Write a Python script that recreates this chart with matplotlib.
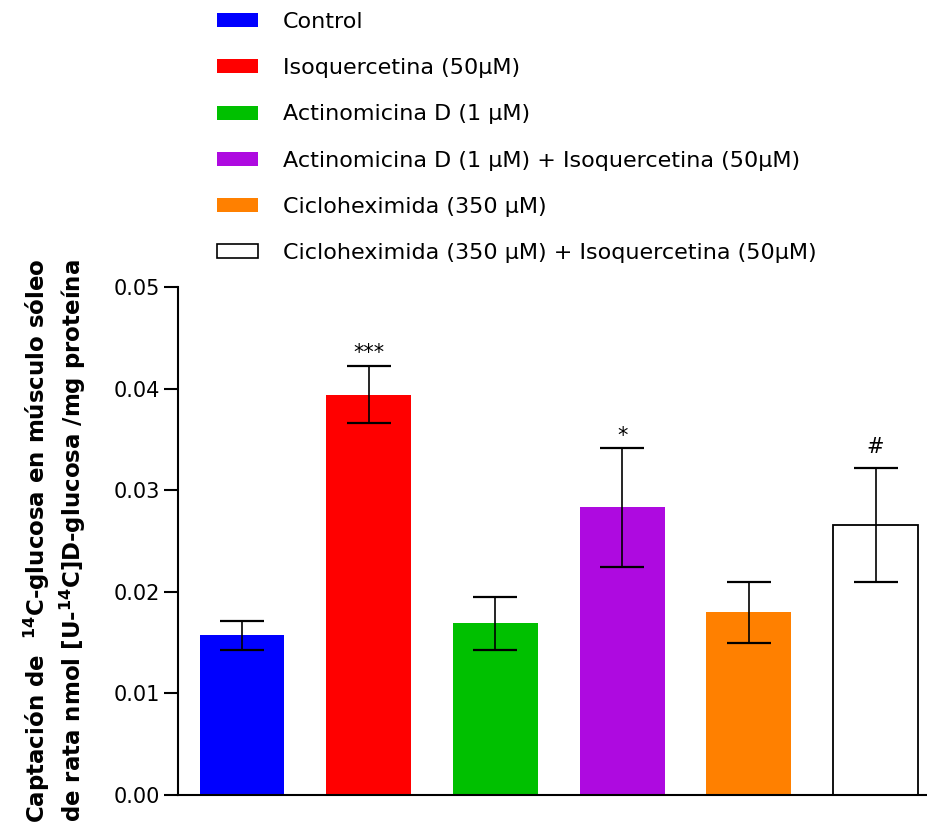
import matplotlib
matplotlib.use("Agg")
import matplotlib.pyplot as plt
from matplotlib.patches import Patch

plt.rcParams['font.family'] = ['DejaVu Sans']

# ---- data ----
labels = ["Control",
          "Isoquercetina (50μM)",
          "Actinomicina D (1 μM)",
          "Actinomicina D (1 μM) + Isoquercetina (50μM)",
          "Cicloheximida (350 μM)",
          "Cicloheximida (350 μM) + Isoquercetina (50μM)"]
means = [0.0157, 0.0394, 0.0169, 0.0283, 0.0180, 0.0266]
sems = [0.00145, 0.0028, 0.0026, 0.0059, 0.0030, 0.0056]
signif = ["", "***", "", "*", "", "#"]
colors = ["#0000FF", "#FF0000", "#00C000", "#AE0AE0", "#FF8000", "#FFFFFF"]
edgecolors = ["#0000FF", "#FF0000", "#00C000", "#AE0AE0", "#FF8000", "#000000"]
yticks = [0.00, 0.01, 0.02, 0.03, 0.04, 0.05]

W, H = 928, 838
fig = plt.figure(figsize=(W / 100, H / 100), dpi=100)
ax = fig.add_axes([178 / W, 1 - 795 / H, 750 / W, (795 - 287) / H])

x = list(range(len(means)))
ax.bar(x, means, width=0.67, color=colors, edgecolor=edgecolors,
       linewidth=[0, 0, 0, 0, 0, 1.3], zorder=2)
ax.errorbar(x, means, yerr=sems, fmt='none', ecolor='black', elinewidth=1.2,
            capsize=15.5, capthick=1.6, zorder=3)

offsets = {"***": 2, "*": 1, "#": 8}
for xi, m, s, t in zip(x, means, sems, signif):
    if t:
        ax.annotate(t, (xi, m + s), xytext=(0, offsets[t]), textcoords='offset points',
                    ha='center', va='bottom', fontsize=15)

ax.set_xlim(-0.505, 5.414)
ax.set_ylim(0, 0.05)
ax.set_yticks(yticks)
ax.set_yticklabels([f"{v:.2f}" for v in yticks], fontsize=15)
ax.set_xticks([])
for side in ['top', 'right']:
    ax.spines[side].set_visible(False)
for side in ['left', 'bottom']:
    ax.spines[side].set_linewidth(1.5)
ax.tick_params(axis='y', length=10, width=1.5, pad=3)

ax.set_ylabel("Captación de  $^{\\mathbf{14}}$C-glucosa en músculo sóleo\n"
              "de rata nmol [U-$^{\\mathbf{14}}$C]D-glucosa /mg proteína",
              fontsize=16.5, fontweight='bold', linespacing=1.25)
ax.yaxis.set_label_coords(-0.1197, 0.5)

handles = [Patch(facecolor=c, edgecolor=e, linewidth=(1.2 if c == "#FFFFFF" else 0))
           for c, e in zip(colors, edgecolors)]
fig.legend(handles, labels, loc='upper left', bbox_to_anchor=(217 / W, 1 - 12 / H),
           frameon=False, fontsize=16, handlelength=1.85, handleheight=0.6,
           handletextpad=1.1, labelspacing=1.18, borderpad=0, borderaxespad=0)

fig.savefig("out.png", dpi=100)
